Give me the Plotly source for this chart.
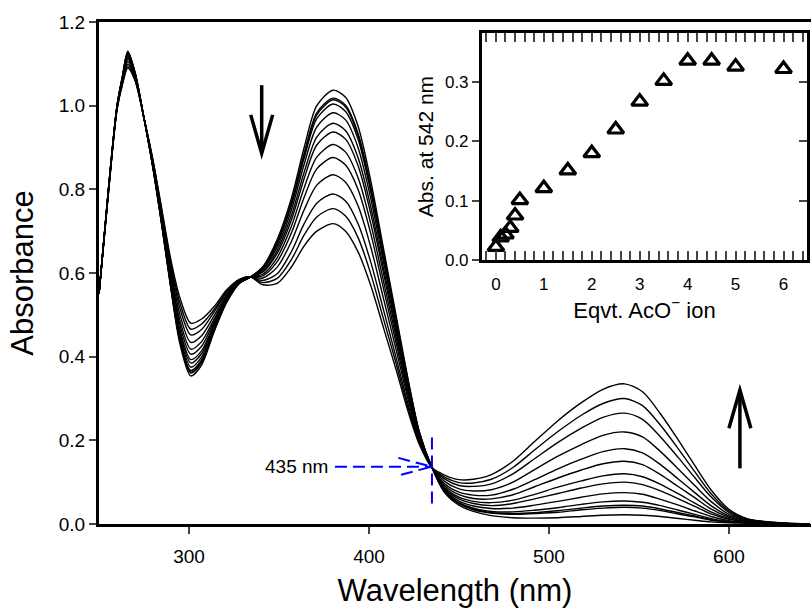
import plotly.graph_objects as go

# ---------------- UV-vis titration spectra (main panel) ----------------
wavelength_nm = [250, 255, 260, 263, 266, 270, 275, 280, 285, 290, 295, 301, 307,
                 314, 321, 328, 334, 341, 349, 357, 364, 371, 380, 387, 394, 401,
                 408, 415, 422, 428, 435, 442, 450, 458, 468, 480, 492, 505, 518,
                 530, 542, 552, 562, 572, 581, 590, 600, 610, 620, 632, 645]

abs_0eq = [.55, .79, 1.00, 1.07, 1.13, 1.08, .97, .85, .71, .56, .43, .354, .38, .46, .53, .575, .59,
           .615, .68, .78, .90, 1.00, 1.037, 1.02, .95, .82, .66, .50, .34, .22, .135, .075, .045,
           .030, .020, .015, .014, .015, .018, .021, .022, .021, .018, .013, .009, .005, .003, .002,
           .001, 0, 0]
abs_0p1eq = [.55, .789, .999, 1.069, 1.128, 1.079, .97, .851, .712, .564, .436, .361, .386, .463, .532,
             .576, .59, .613, .674, .77, .886, .983, 1.018, 1.001, .933, .806, .649, .492, .336, .218,
             .135, .077, .049, .034, .026, .023, .025, .028, .034, .038, .04, .038, .032, .024, .017,
             .009, .005, .003, .001, 0, 0]
abs_0p2eq = [.55, .789, .999, 1.069, 1.127, 1.079, .97, .851, .713, .565, .438, .363, .388, .464, .532,
             .576, .59, .612, .672, .768, .883, .978, 1.014, .997, .928, .802, .646, .491, .335, .218,
             .135, .078, .049, .036, .027, .025, .027, .032, .038, .043, .045, .043, .036, .027, .019,
             .011, .005, .003, .001, 0, 0]
abs_0p3eq = [.55, .789, .999, 1.068, 1.126, 1.078, .97, .852, .714, .567, .442, .367, .392, .466, .533,
             .576, .59, .610, .669, .763, .875, .969, 1.004, .986, .919, .794, .64, .486, .332, .217,
             .135, .079, .051, .038, .03, .029, .033, .039, .047, .053, .055, .052, .044, .033, .023,
             .013, .006, .003, .002, 0, 0]
abs_0p4eq = [.55, .788, .998, 1.067, 1.123, 1.077, .97, .853, .717, .572, .449, .375, .399, .47, .535,
             .577, .59, .608, .662, .752, .86, .949, .983, .966, .899, .778, .628, .478, .327, .215,
             .135, .082, .055, .043, .037, .038, .045, .054, .064, .072, .075, .071, .059, .045, .031,
             .018, .008, .004, .002, 0, 0]
abs_0p5eq = [.55, .788, .998, 1.065, 1.12, 1.075, .97, .855, .72, .577, .457, .385, .407, .475, .537,
             .577, .59, .604, .654, .739, .841, .925, .958, .94, .875, .758, .613, .468, .321, .213,
             .135, .085, .06, .049, .044, .049, .06, .073, .086, .096, .1, .094, .079, .06, .042,
             .024, .011, .005, .002, .001, 0]
abs_1eq = [.55, .787, .997, 1.064, 1.117, 1.074, .97, .856, .723, .582, .464, .393, .414, .479, .539,
           .578, .59, .602, .647, .728, .826, .906, .937, .92, .856, .742, .601, .459, .317, .211,
           .135, .088, .064, .054, .051, .057, .071, .088, .103, .115, .12, .113, .095, .072, .05,
           .029, .013, .005, .003, .001, 0]
abs_1p5eq = [.55, .786, .996, 1.062, 1.114, 1.072, .97, .858, .726, .589, .475, .406, .425, .485, .542,
             .579, .591, .597, .637, .713, .804, .877, .907, .889, .827, .718, .582, .447, .309, .208,
             .135, .092, .07, .061, .06, .07, .089, .11, .129, .144, .15, .142, .118, .089, .063,
             .036, .016, .006, .003, .001, 0]
abs_2eq = [.55, .785, .995, 1.06, 1.11, 1.07, .97, .86, .73, .595, .486, .418, .436, .49, .545,
           .58, .591, .593, .627, .697, .781, .849, .876, .858, .799, .694, .564, .434, .302, .205,
           .135, .096, .076, .069, .069, .083, .106, .132, .155, .173, .18, .17, .142, .107, .075,
           .044, .019, .008, .004, .001, 0]
abs_2p5eq = [.55, .784, .994, 1.057, 1.105, 1.067, .97, .863, .735, .604, .5, .434, .45, .498, .549,
             .581, .591, .588, .614, .676, .751, .81, .835, .817, .76, .662, .54, .418, .293, .201,
             .135, .102, .084, .079, .082, .1, .13, .162, .19, .212, .22, .208, .173, .131, .092,
             .054, .023, .009, .004, .001, 0]
abs_3eq = [.55, .782, .992, 1.054, 1.099, 1.064, .97, .866, .741, .614, .515, .452, .465, .507, .553,
           .583, .591, .582, .598, .652, .718, .767, .789, .772, .717, .626, .513, .399, .282, .197,
           .135, .108, .092, .09, .096, .12, .156, .195, .229, .255, .265, .25, .208, .158, .111,
           .065, .028, .011, .005, .002, 0]
abs_3p5eq = [.55, .781, .991, 1.052, 1.094, 1.062, .97, .868, .746, .622, .528, .466, .478, .513, .557,
             .584, .591, .577, .587, .633, .691, .734, .754, .736, .684, .598, .491, .385, .273, .193,
             .135, .112, .099, .098, .107, .135, .177, .221, .26, .288, .30, .283, .236, .179, .125,
             .073, .031, .012, .005, .002, 0]
abs_4eq = [.55, .78, .99, 1.05, 1.09, 1.06, .97, .87, .75, .63, .54, .48, .49, .52, .56,
           .585, .591, .572, .575, .615, .665, .70, .718, .70, .65, .57, .47, .37, .265, .19,
           .135, .117, .106, .107, .118, .15, .197, .247, .29, .322, .335, .316, .263, .20, .14,
           .082, .035, .013, .006, .002, 0]

spectra = [abs_0eq, abs_0p1eq, abs_0p2eq, abs_0p3eq, abs_0p4eq, abs_0p5eq, abs_1eq,
           abs_1p5eq, abs_2eq, abs_2p5eq, abs_3eq, abs_3p5eq, abs_4eq]
spectra_names = ["0", "0.1", "0.2", "0.3", "0.4", "0.5", "1", "1.5", "2", "2.5", "3", "3.5", "4"]

# ---------------- inset: absorbance at 542 nm vs. equivalents ----------------
eqv_aco = [0, 0.1, 0.2, 0.3, 0.4, 0.5, 1, 1.5, 2, 2.5, 3, 3.5, 4, 4.5, 5, 6]
abs_542 = [0.022, 0.038, 0.043, 0.054, 0.075, 0.101, 0.121, 0.151, 0.180, 0.220,
           0.267, 0.302, 0.336, 0.336, 0.326, 0.322]

main_ticks_x = [300, 400, 500, 600]
main_ticks_y = [0.0, 0.2, 0.4, 0.6, 0.8, 1.0, 1.2]
inset_ticks_x = [0, 1, 2, 3, 4, 5, 6]
inset_ticks_y = [0.0, 0.1, 0.2, 0.3]

for s in spectra:
    if len(s) != len(wavelength_nm):
        raise ValueError("spectrum length mismatch")

FONT = "Liberation Sans, Arial, sans-serif"
BLUE = "#0000ff"

fig = go.Figure()

for name, s in zip(spectra_names, spectra):
    fig.add_trace(go.Scatter(
        x=wavelength_nm, y=s, mode="lines", name=name + " eqv",
        line=dict(color="black", width=1.4, shape="spline", smoothing=0.8),
        showlegend=False, hoverinfo="skip"))

fig.add_trace(go.Scatter(
    x=eqv_aco, y=abs_542, mode="markers", xaxis="x2", yaxis="y2",
    marker=dict(symbol="triangle-up-open", size=14, color="black", line=dict(width=3.2)),
    showlegend=False))

# right-hand inset ticks pointing inward
fig.add_trace(go.Scatter(x=[0], y=[0], xaxis="x2", yaxis="y3", mode="markers",
                         marker=dict(opacity=0), showlegend=False, hoverinfo="skip"))

# ---- decorations: trend arrows and the isosbestic marker ----
shapes = []
arrow_style = dict(type="path", xref="x", yref="y", line=dict(color="black", width=3.5))
# downward arrow over the 380 nm band
shapes.append(dict(arrow_style, path="M340.4,1.049 L340.4,0.888"))
shapes.append(dict(arrow_style, path="M334.3,0.978 L340.4,0.886 L346.5,0.978"))
# upward arrow near the 542 nm band
shapes.append(dict(arrow_style, path="M606.1,0.133 L606.1,0.318"))
shapes.append(dict(arrow_style, path="M600.0,0.229 L606.1,0.320 L612.2,0.229"))

dash_style = dict(type="path", xref="x", yref="y", line=dict(color=BLUE, width=2, dash="12px,6px"))
shapes.append(dict(dash_style, path="M381.1,0.137 L434.8,0.137"))
shapes.append(dict(dash_style, path="M416.3,0.158 L434.8,0.137 L416.3,0.116"))
shapes.append(dict(dash_style, path="M435,0.049 L435,0.221"))

annotations = [
    dict(x=378.5, y=0.137, xref="x", yref="y", text="435 nm", showarrow=False,
         xanchor="right", yanchor="middle", font=dict(family=FONT, size=19, color="black")),
]

fig.update_layout(
    width=811, height=610,
    margin=dict(l=99, r=0, t=22, b=86, autoexpand=False),
    paper_bgcolor="white", plot_bgcolor="white",
    font=dict(family=FONT, color="black"),
    shapes=shapes, annotations=annotations,
    xaxis=dict(
        range=[250, 645.6], tickvals=main_ticks_x, ticks="outside", ticklen=7, tickwidth=1.5,
        showline=True, linewidth=3, linecolor="black", mirror=True, showgrid=False, zeroline=False,
        ticklabelstandoff=6,
        tickfont=dict(size=19), title=dict(text="Wavelength (nm)", font=dict(size=31), standoff=14)),
    yaxis=dict(
        range=[0, 1.2], tickvals=main_ticks_y, tickformat=".1f", ticks="outside", ticklen=7,
        tickwidth=1.5, showline=True, linewidth=3, linecolor="black", showgrid=False, zeroline=False,
        tickfont=dict(size=19), title=dict(text="Absorbance", font=dict(size=31), standoff=16)),
    xaxis2=dict(
        domain=[0.5379, 0.9944], anchor="y2", range=[-0.29, 6.49], tickvals=inset_ticks_x,
        ticks="inside", ticklen=9, tickwidth=2, showline=True, linewidth=3, linecolor="black",
        mirror="allticks", showgrid=False, zeroline=False, ticklabelstandoff=7,
        minor=dict(dtick=0.2, tick0=0, ticks="inside", ticklen=7, tickwidth=2, showgrid=False),
        tickfont=dict(size=17), title=dict(text="Eqvt. AcO<sup>\u2212</sup> ion", font=dict(size=22), standoff=6)),
    yaxis2=dict(
        domain=[0.5259, 0.978], anchor="x2", range=[0, 0.3826], tickvals=inset_ticks_y,
        tickformat=".1f", ticks="outside", ticklen=7, tickwidth=2, showline=True, linewidth=3,
        linecolor="black", mirror=True, showgrid=False, zeroline=False,
        tickfont=dict(size=17), title=dict(text="Abs. at 542 nm", font=dict(size=21), standoff=6)),
    yaxis3=dict(
        domain=[0.5259, 0.978], anchor="x2", overlaying="y2", side="right", range=[0, 0.3826],
        tickvals=inset_ticks_y, ticks="inside", ticklen=8, tickwidth=2, showticklabels=False,
        showline=False, showgrid=False, zeroline=False),
)

fig.write_html("out.html")
